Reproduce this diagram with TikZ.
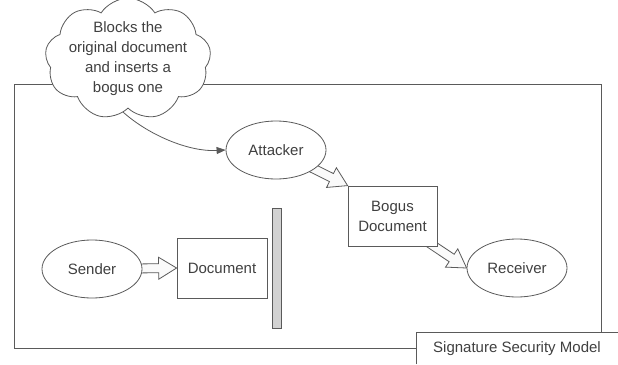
\documentclass[tikz,border=0pt]{standalone}
\usepackage{fontspec}
\setmainfont{Liberation Sans}
\usetikzlibrary{shapes.geometric,shapes.symbols,calc,arrows.meta}
\pgfdeclarelayer{bg}
\pgfsetlayers{bg,main}
\definecolor{ln}{HTML}{5A5A5A}
\definecolor{tx}{HTML}{404040}
\tikzset{
  base/.style={draw=ln, line width=0.8pt, text=tx, font=\fontsize{15}{20}\selectfont, fill=white},
  oval/.style={base, ellipse, minimum width=100pt, minimum height=58pt, inner sep=0pt},
  docbox/.style={base, rectangle, inner sep=0pt, align=center},
  fat/.style={draw=ln, line width=0.8pt, fill=gray!4, line join=miter},
  conn/.style={draw=ln, line width=0.8pt},
}
\newcommand\fatarrow[2]{%
  \coordinate (fah) at ($(#2)!18pt!(#1)$);
  \draw[fat] ($(#1)!4.5pt!90:(#2)$) -- ($(fah)!4.5pt!90:(#2)$) -- ($(fah)!11pt!90:(#2)$) -- (#2)
    -- ($(fah)!11pt!-90:(#2)$) -- ($(fah)!4.5pt!-90:(#2)$) -- ($(#1)!4.5pt!-90:(#2)$) -- cycle;}
\begin{document}
\begin{tikzpicture}[x=1pt,y=-1pt]
\useasboundingbox (0,0) rectangle (618,364);
\draw[conn] (14,84) rectangle (601,348);
\node[base, cloud, cloud puffs=9, cloud puff arc=115, aspect=1.55, minimum width=166pt, minimum height=108pt, inner sep=-5pt, align=center] (cld) at (128,59) {Blocks the\\original document\\and inserts a\\bogus one};
\node[oval] (att) at (276,150) {Attacker};
\node[docbox, minimum width=89pt, minimum height=60pt] (bog) at (392.5,216) {Bogus\\Document};
\node[docbox, minimum width=90pt, minimum height=60pt] (doc) at (222,268) {Document};
\node[oval] (snd) at (92,269) {Sender};
\node[oval] (rcv) at (517,268) {Receiver};
\node[draw=ln, line width=0.8pt, fill=gray!35, minimum width=9pt, minimum height=120pt, inner sep=0pt] (bar) at (276.5,268) {};
\coordinate (bse) at ($(bog.south east)+(-18,-10)$);
\begin{pgfonlayer}{bg}
\fatarrow{snd}{doc.west}
\fatarrow{att}{bog.north west}
\fatarrow{bse}{rcv.west}
\end{pgfonlayer}
\draw[conn, -{Triangle[length=9pt,width=7pt]}] (cld.-95) .. controls (150,136) and (190,152) .. (att.west);
\fill[white] (416,332) rectangle (618,364);
\draw[conn] (416,364) -- (416,332) -- (618,332);
\node[text=tx, font=\fontsize{15}{20}\selectfont] (lbl) at (517,349) {Signature Security Model};
\end{tikzpicture}
\end{document}
